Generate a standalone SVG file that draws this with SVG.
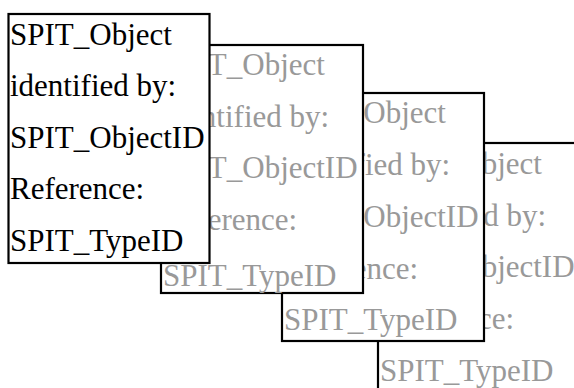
<svg xmlns="http://www.w3.org/2000/svg" width="574" height="388" viewBox="0 0 574 388">
<style>
.box{fill:#ffffff;stroke:#000000;stroke-width:2.2}
.t{font-family:'Liberation Serif','DejaVu Serif',serif;font-size:31px;fill:#999999}
.t1{fill:#000000}
</style>
<rect width="574" height="388" fill="#ffffff"/>
<g id="node4">
<rect class="box" x="378" y="143" width="202" height="249"/>
<text class="t" font-family="Liberation Serif" x="380"><tspan y="174">SPIT_Object</tspan><tspan x="380" y="226">identified by:</tspan><tspan x="380" y="277">SPIT_ObjectID</tspan><tspan x="380" y="329">Reference:</tspan><tspan x="380" y="381">SPIT_TypeID</tspan></text>
</g>
<g id="node3">
<rect class="box" x="282" y="93" width="202" height="248"/>
<text class="t" font-family="Liberation Serif" x="284"><tspan y="123">SPIT_Object</tspan><tspan x="284" y="175">identified by:</tspan><tspan x="284" y="227">SPIT_ObjectID</tspan><tspan x="284" y="279">Reference:</tspan><tspan x="284" y="330">SPIT_TypeID</tspan></text>
</g>
<g id="node2">
<rect class="box" x="161" y="45" width="202" height="248"/>
<text class="t" font-family="Liberation Serif" x="163"><tspan y="75">SPIT_Object</tspan><tspan x="163" y="127">identified by:</tspan><tspan x="163" y="178">SPIT_ObjectID</tspan><tspan x="163" y="230">Reference:</tspan><tspan x="163" y="286">SPIT_TypeID</tspan></text>
</g>
<g id="node1">
<rect class="box" x="8.5" y="14" width="201" height="249"/>
<text class="t t1" font-family="Liberation Serif" x="10"><tspan y="45">SPIT_Object</tspan><tspan x="10" y="96">identified by:</tspan><tspan x="10" y="148">SPIT_ObjectID</tspan><tspan x="10" y="199">Reference:</tspan><tspan x="10" y="251">SPIT_TypeID</tspan></text>
</g>
<g id="connectors"></g>
</svg>
